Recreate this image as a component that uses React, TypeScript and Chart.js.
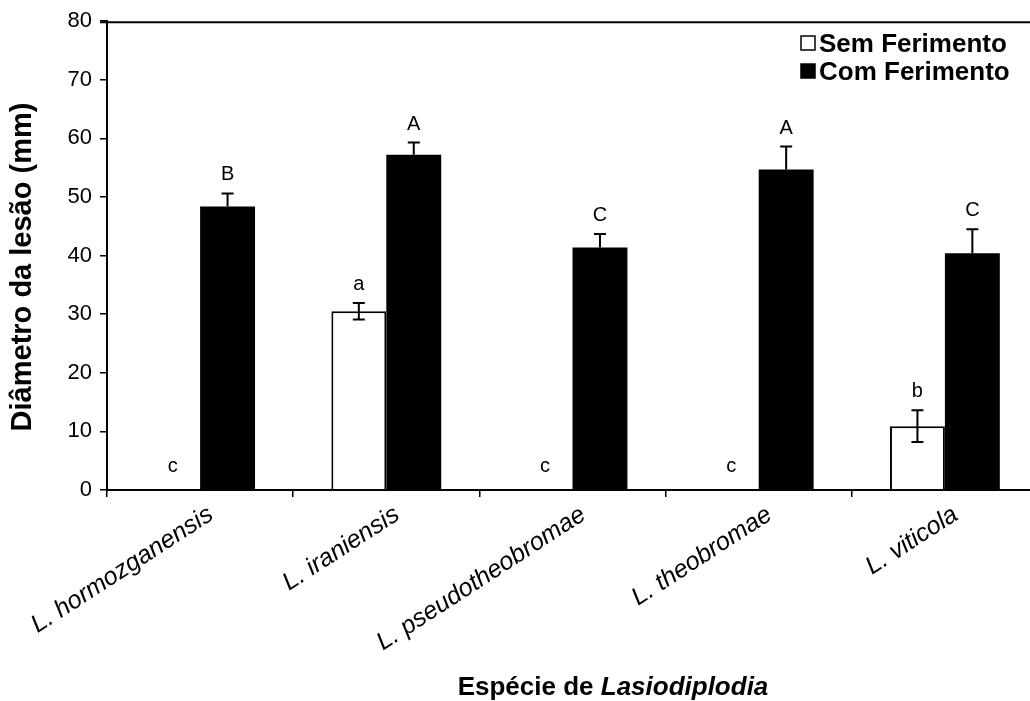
import React, { useEffect, useRef } from "react";
import { Chart, registerables } from "chart.js";

Chart.register(...registerables);

const categories = [
  "L. hormozganensis",
  "L. iraniensis",
  "L. pseudotheobromae",
  "L. theobromae",
  "L. viticola",
];
const seriesNames = ["Sem Ferimento", "Com Ferimento"];
const semValues = [0, 30.5, 0, 0, 10.9];
const semErrors = [0, 1.4, 0, 0, 2.7];
const comValues = [48.4, 57.2, 41.4, 54.7, 40.4];
const comErrors = [2.2, 2.1, 2.3, 3.9, 4.1];
const semLetters = ["c", "a", "c", "c", "b"];
const comLetters = ["B", "A", "C", "A", "C"];
const yMin = 0;
const yMax = 80;
const yStep = 10;
const yTitle = "Diâmetro da lesão (mm)";
const xTitleNormal = "Espécie de ";
const xTitleItalic = "Lasiodiplodia";

const FONT = "'Liberation Sans', Arial, sans-serif";

const overlayPlugin = {
  id: "overlay",
  afterDatasetsDraw(chart: any) {
    const ctx = chart.ctx;
    const y = chart.scales.y;
    const errs = [semErrors, comErrors];
    const vals = [semValues, comValues];
    const letters = [semLetters, comLetters];
    ctx.save();
    ctx.strokeStyle = "#000";
    ctx.fillStyle = "#000";
    ctx.lineWidth = 2;
    for (let d = 0; d < 2; d++) {
      const meta = chart.getDatasetMeta(d);
      meta.data.forEach((bar: any, i: number) => {
        const v = vals[d][i];
        const e = errs[d][i];
        const x = bar.x;
        if (e > 0) {
          const yTop = y.getPixelForValue(v + e);
          const yBot = y.getPixelForValue(d === 0 ? v - e : v);
          ctx.beginPath();
          ctx.moveTo(x, yTop);
          ctx.lineTo(x, yBot);
          ctx.moveTo(x - 6, yTop);
          ctx.lineTo(x + 6, yTop);
          if (d === 0) {
            ctx.moveTo(x - 6, yBot);
            ctx.lineTo(x + 6, yBot);
          }
          ctx.stroke();
        }
        const topPx = y.getPixelForValue(v + e);
        ctx.font = `20px ${FONT}`;
        ctx.textAlign = "center";
        ctx.textBaseline = "alphabetic";
        const baseY = v === 0 ? y.getPixelForValue(0) - 18 : topPx - 13;
        ctx.fillText(letters[d][i], x, baseY);
      });
    }
    ctx.restore();
  },
  afterDraw(chart: any) {
    const ctx = chart.ctx;
    const area = chart.chartArea;
    const xs = chart.scales.x;
    ctx.save();
    ctx.fillStyle = "#000";
    ctx.strokeStyle = "#000";
    // top border line
    ctx.lineWidth = 2;
    ctx.beginPath();
    ctx.moveTo(area.left - 7, area.top + 1);
    ctx.lineTo(area.right, area.top + 1);
    ctx.stroke();

    // x category labels
    ctx.font = `italic 25px ${FONT}`;
    ctx.textAlign = "right";
    ctx.textBaseline = "top";
    categories.forEach((c, i) => {
      const cx = xs.getPixelForValue(i);
      ctx.save();
      ctx.translate(cx + 4, area.bottom + 12);
      ctx.rotate((-33 * Math.PI) / 180);
      ctx.fillText(c, 0, 0);
      ctx.restore();
    });

    // x title
    ctx.textBaseline = "alphabetic";
    ctx.textAlign = "left";
    ctx.font = `bold 26px ${FONT}`;
    const w1 = ctx.measureText(xTitleNormal).width;
    ctx.font = `italic bold 26px ${FONT}`;
    const w2 = ctx.measureText(xTitleItalic).width;
    const startX = 613 - (w1 + w2) / 2;
    ctx.font = `bold 26px ${FONT}`;
    ctx.fillText(xTitleNormal, startX, 695);
    ctx.font = `italic bold 26px ${FONT}`;
    ctx.fillText(xTitleItalic, startX + w1, 695);

    // y title
    ctx.save();
    ctx.translate(23, 267);
    ctx.rotate(-Math.PI / 2);
    ctx.font = `bold 29px ${FONT}`;
    ctx.textAlign = "center";
    ctx.textBaseline = "middle";
    ctx.fillText(yTitle, 0, 0);
    ctx.restore();

    // legend
    const rows = [
      { label: seriesNames[0], fill: "#fff", base: 52 },
      { label: seriesNames[1], fill: "#000", base: 80 },
    ];
    ctx.font = `bold 26px ${FONT}`;
    ctx.textAlign = "left";
    ctx.textBaseline = "alphabetic";
    rows.forEach((r) => {
      ctx.fillStyle = r.fill;
      ctx.fillRect(801, r.base - 16, 14, 14);
      ctx.lineWidth = 1.5;
      ctx.strokeStyle = "#000";
      ctx.strokeRect(801, r.base - 16, 14, 14);
      ctx.fillStyle = "#000";
      ctx.fillText(r.label, 819, r.base);
    });
    ctx.restore();
  },
};

export default function App() {
  const ref = useRef<HTMLCanvasElement>(null);
  useEffect(() => {
    if (!ref.current) return;
    const chart = new Chart(ref.current, {
      type: "bar",
      data: {
        labels: categories,
        datasets: [
          {
            label: seriesNames[0],
            data: semValues,
            backgroundColor: "#fff",
            borderColor: "#000",
            borderWidth: 2,
            categoryPercentage: 0.59,
            barPercentage: 1,
          },
          {
            label: seriesNames[1],
            data: comValues,
            backgroundColor: "#000",
            borderColor: "#000",
            borderWidth: 0,
            categoryPercentage: 0.59,
            barPercentage: 1,
          },
        ],
      },
      options: {
        responsive: false,
        animation: false,
        devicePixelRatio: 1,
        layout: { padding: { top: 16, right: 7, left: 0, bottom: 0 } },
        plugins: { legend: { display: false }, tooltip: { enabled: false } },
        scales: {
          x: {
            grid: {
              display: true,
              drawOnChartArea: false,
              drawTicks: true,
              tickLength: 7,
              color: "#000",
              lineWidth: 1.5,
              offset: true,
            },
            border: { display: true, color: "#000", width: 2 },
            ticks: { display: false },
            afterFit: (s: any) => {
              s.height = 211;
            },
          },
          y: {
            min: yMin,
            max: yMax,
            ticks: {
              stepSize: yStep,
              color: "#000",
              font: { family: FONT, size: 22 },
              padding: 8,
            },
            grid: {
              display: true,
              drawOnChartArea: false,
              drawTicks: true,
              tickLength: 7,
              color: "#000",
              lineWidth: 1.5,
            },
            border: { display: true, color: "#000", width: 2 },
            afterFit: (s: any) => {
              s.width = 107;
            },
          },
        },
      },
      plugins: [overlayPlugin],
    });
    return () => chart.destroy();
  }, []);
  return (
    <div
      style={{
        position: "fixed",
        left: 0,
        top: 0,
        width: 1030,
        height: 701,
        overflow: "hidden",
        background: "#fff",
      }}
    >
      <canvas ref={ref} width={1045} height={701} style={{ width: 1045, height: 701 }} />
    </div>
  );
}
